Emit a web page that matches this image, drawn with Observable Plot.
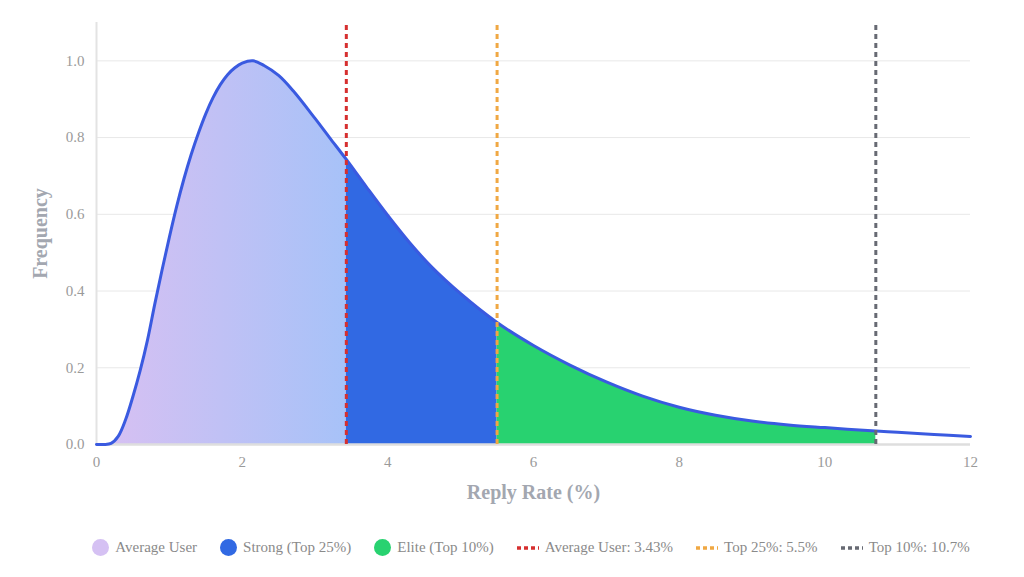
<!DOCTYPE html>
<html>
<head>
<meta charset="utf-8">
<script src="https://cdn.jsdelivr.net/npm/d3@7"></script>
<script src="https://cdn.jsdelivr.net/npm/@observablehq/plot@0.6"></script>
<style>
  html, body { margin: 0; padding: 0; background: #fff; }
  #chart { width: 1024px; }
  .legend { display: flex; align-items: center; justify-content: center; gap: 23px;
    font-family: "Liberation Serif", serif; font-size: 15px; color: #8a8a8a;
    margin-top: 24px; margin-left: 38px; }
  .item { display: flex; align-items: center; gap: 6px; }
  .dot { width: 17px; height: 17px; border-radius: 50%; display: inline-block; }
</style>
</head>
<body>
<div id="chart"></div>
<div class="legend" id="legend"></div>
<script>
// Curve: reply rate (%) and relative frequency
const rate = [0, 0.1, 0.2, 0.3, 0.4, 0.5, 0.6, 0.7, 0.8, 0.9, 1.0, 1.1, 1.2, 1.3, 1.4, 1.5, 1.6, 1.7, 1.8, 1.9, 2.0, 2.15, 2.3, 2.5, 2.7, 3.0, 3.2, 3.43, 3.7, 4.0, 4.3, 4.6, 5.0, 5.5, 6.0, 6.5, 7.0, 7.5, 8.0, 8.5, 9.0, 9.5, 10.0, 10.7, 11.0, 11.5, 12.0];
const freq = [0, 0, 0.003, 0.022, 0.065, 0.125, 0.193, 0.272, 0.366, 0.455, 0.54, 0.62, 0.692, 0.756, 0.812, 0.862, 0.904, 0.938, 0.964, 0.982, 0.994, 1.0, 0.988, 0.962, 0.922, 0.850, 0.800, 0.743, 0.673, 0.597, 0.526, 0.463, 0.393, 0.318, 0.258, 0.207, 0.163, 0.126, 0.097, 0.076, 0.061, 0.051, 0.044, 0.035, 0.032, 0.026, 0.021];

// Thresholds
const thresholdNames = ["Average User", "Top 25%", "Top 10%"];
const thresholdValues = [3.43, 5.5, 10.7];
const thresholdLabels = ["3.43%", "5.5%", "10.7%"];
const thresholdColors = ["#d62f2f", "#f0a843", "#676a73"];

// Segments
const segmentNames = ["Average User", "Strong (Top 25%)", "Elite (Top 10%)"];
const segmentColors = ["#d5c1f3", "#3169e3", "#28d270"];

// Ticks
const xTicks = [0, 2, 4, 6, 8, 10, 12];
const yTicks = [0, 0.2, 0.4, 0.6, 0.8, 1.0];
const gridTicks = [0.2, 0.4, 0.6, 0.8, 1.0];

const data = rate.map((x, i) => ({x, y: freq[i]}));
const seg1 = data.filter(d => d.x <= thresholdValues[0]);
const seg2 = data.filter(d => d.x >= thresholdValues[0] && d.x <= thresholdValues[1]);
const seg3 = data.filter(d => d.x >= thresholdValues[1] && d.x <= thresholdValues[2]);
const rules = thresholdValues.map((v, i) => ({x: v, c: thresholdColors[i]}));

const defs = () => {
  const d = d3.create("svg:defs");
  const g = d.append("linearGradient").attr("id", "avgGrad")
    .attr("x1", "0").attr("x2", "1").attr("y1", "0").attr("y2", "0");
  g.append("stop").attr("offset", "0%").attr("stop-color", "#d9c0f2");
  g.append("stop").attr("offset", "100%").attr("stop-color", "#a7c2f8");
  return d.node();
};

const curve = "catmull-rom";

const chart = Plot.plot({
  width: 1024,
  height: 515,
  marginTop: 22,
  marginBottom: 71,
  marginLeft: 96,
  marginRight: 54,
  style: {fontFamily: "'Liberation Serif', serif", fontSize: "15px", color: "#9a9a9a", background: "#fff"},
  x: {domain: [0, 12]},
  y: {domain: [0, 1.1]},
  marks: [
    defs,
    Plot.ruleY(gridTicks, {stroke: "#e8e8e8", strokeWidth: 1}),
    Plot.ruleX([0], {y1: 0, y2: 1.1, stroke: "#e3e3e3", strokeWidth: 2}),
    Plot.areaY(seg1, {x: "x", y: "y", fill: "url(#avgGrad)", curve}),
    Plot.areaY(seg2, {x: "x", y: "y", fill: segmentColors[1], curve}),
    Plot.areaY(seg3, {x: "x", y: "y", fill: segmentColors[2], curve}),
    Plot.ruleY([0], {stroke: "#dedede", strokeWidth: 2.5}),
    Plot.lineY(data, {x: "x", y: "y", stroke: "#3a5ae0", strokeWidth: 3, curve}),
    Plot.ruleX(rules, {x: "x", y1: 0, y2: 1.1, stroke: "c", strokeWidth: 3, strokeDasharray: "5,4"}),
    Plot.axisX({ticks: xTicks, tickSize: 0, tickPadding: 12, label: null, fill: "#9a9a9a", fontSize: 15}),
    Plot.axisY({ticks: yTicks, tickSize: 0, tickPadding: 12, tickFormat: d3.format(".1f"), label: null, fill: "#9a9a9a", fontSize: 15}),
    Plot.text(["Reply Rate (%)"], {frameAnchor: "bottom", dy: 54, text: d => d, fontSize: 20, fontWeight: "bold", fill: "#a3a7b0"}),
    Plot.text(["Frequency"], {frameAnchor: "left", dx: -56, rotate: -90, textAnchor: "middle", text: d => d, fontSize: 20, fontWeight: "bold", fill: "#a3a7b0"})
  ]
});
document.getElementById("chart").appendChild(chart);

const legend = document.getElementById("legend");
segmentNames.forEach((n, i) => {
  const it = document.createElement("span");
  it.className = "item";
  it.innerHTML = `<span class="dot" style="background:${segmentColors[i]}"></span><span>${n}</span>`;
  legend.appendChild(it);
});
thresholdNames.forEach((n, i) => {
  const it = document.createElement("span");
  it.className = "item";
  const c = thresholdColors[i];
  it.innerHTML = `<svg width="22" height="4"><line x1="0" x2="22" y1="2" y2="2" stroke="${c}" stroke-width="3.5" stroke-dasharray="4,3"/></svg><span>${n}: ${thresholdLabels[i]}</span>`;
  legend.appendChild(it);
});
</script>
</body>
</html>
